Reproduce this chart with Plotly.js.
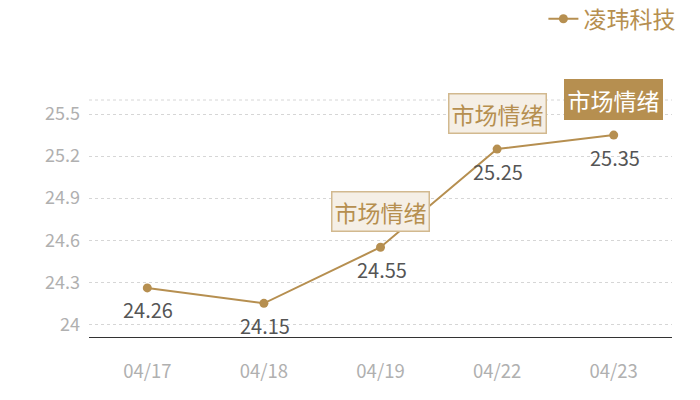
<!DOCTYPE html>
<html>
<head>
<meta charset="utf-8">
<script src="https://cdn.plot.ly/plotly-3.0.1.min.js"></script>
<style>body{margin:0;background:#fff}#chart{width:700px;height:400px}</style>
</head>
<body>
<div id="chart"></div>
<script>
var dates = ['04/17', '04/18', '04/19', '04/22', '04/23'];
var prices = [24.26, 24.15, 24.55, 25.25, 25.35];
var seriesName = '凌玮科技';
var yTicks = [24, 24.3, 24.6, 24.9, 25.2, 25.5];
var yTickText = ['24', '24.3', '24.6', '24.9', '25.2', '25.5'];
var noteDates = ['04/19', '04/22', '04/23'];
var noteText = '市场情绪';

var gold = '#b68f50';
var cjk = '"Noto Sans CJK SC", "Noto Sans", sans-serif';

var trace = [{
  x: dates, y: prices, name: seriesName, type: 'scatter', mode: 'lines+markers',
  line: { color: gold, width: 2 }, marker: { color: gold, size: 9 },
  cliponaxis: false, hoverinfo: 'none'
}];

// value labels under each point
var labels = dates.map(function (d, i) {
  return {
    x: d, y: prices[i], xref: 'x', yref: 'y', text: prices[i].toFixed(2), showarrow: false,
    yshift: -22, xshift: 1, font: { size: 20, color: '#555', family: cjk }
  };
});

var notes = noteDates.map(function (d, i) {
  var last = i === noteDates.length - 1;
  return {
    x: d, y: prices[dates.indexOf(d)], xref: 'x', yref: 'y', text: noteText, showarrow: false,
    yshift: 36, font: { size: 23, color: last ? '#fff' : gold, family: cjk },
    bgcolor: last ? gold : '#f5efe6', bordercolor: last ? gold : '#d2b98f', borderwidth: 1.5, borderpad: 2
  };
});

var layout = {
  width: 700, height: 400, margin: { l: 89, r: 28, t: 100, b: 63 },
  paper_bgcolor: '#fff', plot_bgcolor: '#fff', font: { family: cjk },
  showlegend: true,
  legend: { xref: 'container', yref: 'container', x: 0.972, xanchor: 'right', y: 0.953, yanchor: 'middle', orientation: 'h', font: { size: 23, color: gold, family: cjk }, itemwidth: 30 },
  xaxis: { type: 'category', range: [-0.5, 4.5], showgrid: false, showline: true, linecolor: '#333', linewidth: 1, ticks: '', tickfont: { size: 18.5, color: '#b0b0b0' }, ticklabelstandoff: 18, fixedrange: true },
  yaxis: { range: [23.91, 25.6], tickvals: yTicks, ticktext: yTickText, showgrid: true, gridcolor: '#d6d6d6', griddash: 'dot', zeroline: false, showline: false, tickfont: { size: 18, color: '#b0b0b0' }, ticklabelstandoff: 8, fixedrange: true },
  shapes: [{ type: 'line', xref: 'paper', yref: 'paper', x0: 0, x1: 1, y0: 1, y1: 1, line: { color: '#d6d6d6', width: 1, dash: 'dot' } }],
  annotations: labels.concat(notes)
};

Plotly.newPlot('chart', trace, layout, { displayModeBar: false, staticPlot: true });
</script>
</body>
</html>
